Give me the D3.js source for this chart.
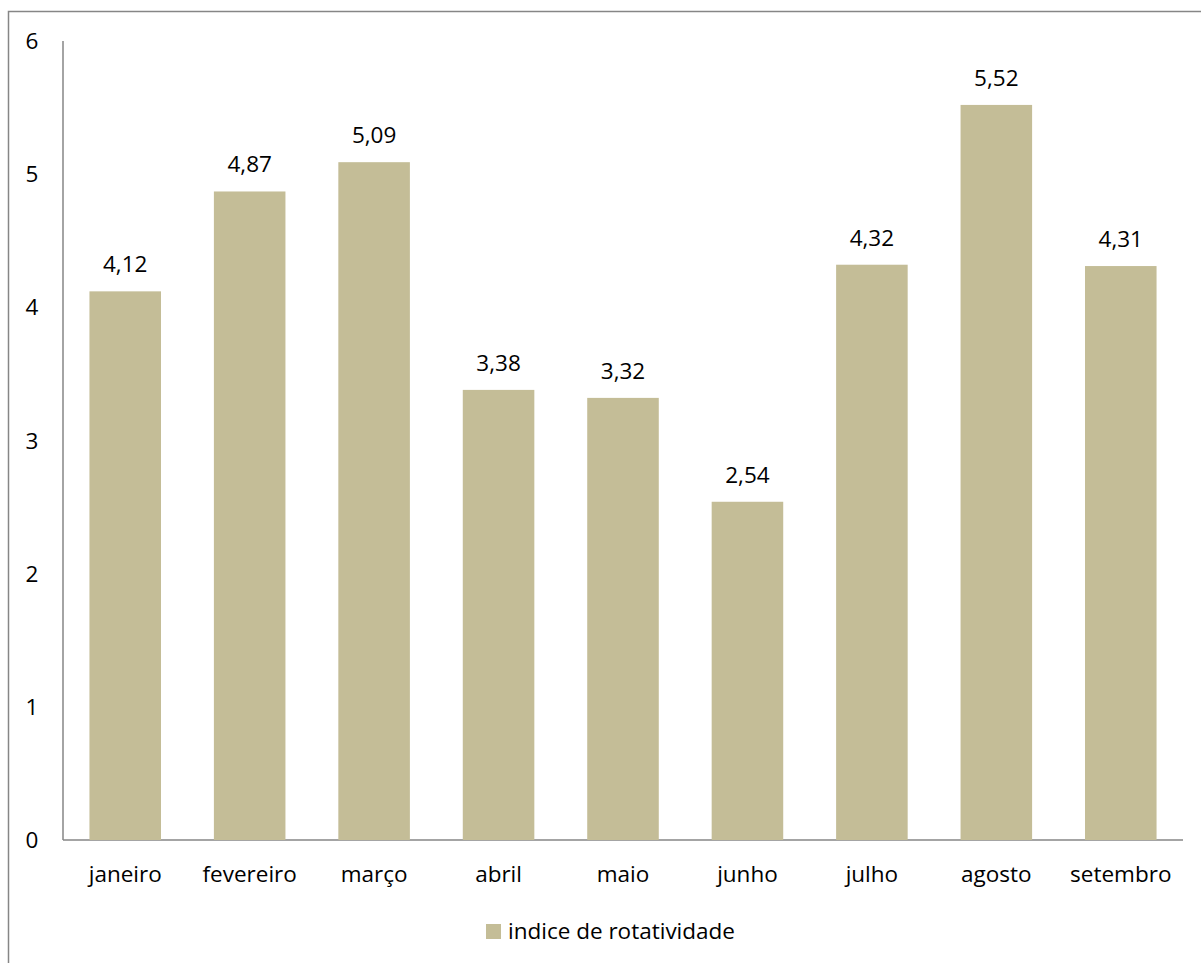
<!DOCTYPE html>
<html><head><meta charset="utf-8">
<script src="https://cdn.jsdelivr.net/npm/d3@7"></script>
<style>body{margin:0;background:#fff}svg{display:block}text{font-family:"Open Sans",sans-serif}</style>
</head><body><div id="c"></div>
<script>
const categories = ["janeiro","fevereiro","março","abril","maio","junho","julho","agosto","setembro"];
const values = [4.12,4.87,5.09,3.38,3.32,2.54,4.32,5.52,4.31];
const yTicks = [0,1,2,3,4,5,6];
const seriesName = "indice de rotatividade";

const W=1201,H=963;
const svg=d3.select("#c").append("svg").attr("width",W).attr("height",H);
// outer frame
svg.append("rect").attr("x",8.5).attr("y",11.5).attr("width",1300).attr("height",1000)
  .attr("fill","none").attr("stroke","#868686").attr("stroke-width",1.5);

const x=d3.scaleBand().domain(categories).range([63,1183]).paddingInner(0.425).paddingOuter(0.2125);
const y=d3.scaleLinear().domain([0,6]).range([840,41]);
const fs=22.5;

svg.append("line").attr("x1",63).attr("x2",63).attr("y1",y(6)).attr("y2",y(0)).attr("stroke","#868686").attr("stroke-width",1.5);
svg.append("line").attr("x1",63).attr("x2",1183).attr("y1",y(0)).attr("y2",y(0)).attr("stroke","#868686").attr("stroke-width",1.5);

svg.selectAll(".yt").data(yTicks).enter().append("text")
  .attr("x",32).attr("y",d=>y(d)).attr("dy","0.36em").attr("text-anchor","middle")
  .attr("font-size",fs).attr("fill","#000").text(d=>d);

svg.selectAll(".bar").data(values).enter().append("rect")
  .attr("x",(d,i)=>x(categories[i])).attr("width",x.bandwidth())
  .attr("y",d=>y(d)).attr("height",d=>y(0)-y(d)).attr("fill","#C4BD97");

const fmt=d=>d.toFixed(2).replace(".",",");
svg.selectAll(".vl").data(values).enter().append("text")
  .attr("x",(d,i)=>x(categories[i])+x.bandwidth()/2).attr("y",d=>y(d)-19)
  .attr("text-anchor","middle").attr("font-size",fs).attr("fill","#000").text(fmt);

svg.selectAll(".xl").data(categories).enter().append("text")
  .attr("x",d=>x(d)+x.bandwidth()/2).attr("y",882)
  .attr("text-anchor","middle").attr("font-size",fs).attr("fill","#000").text(d=>d);

svg.append("rect").attr("x",486).attr("y",924).attr("width",15).attr("height",15).attr("fill","#C4BD97");
svg.append("text").attr("x",508).attr("y",939).attr("font-size",fs).attr("fill","#000").text(seriesName);
</script></body></html>
